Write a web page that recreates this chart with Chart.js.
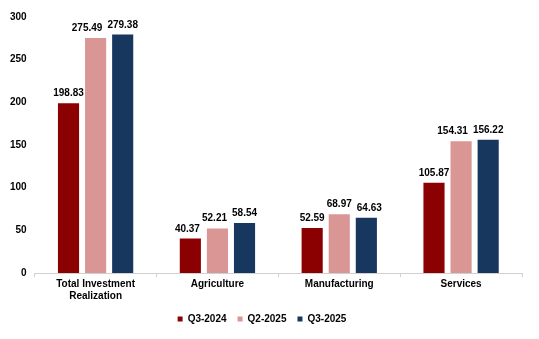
<!DOCTYPE html>
<html>
<head>
<meta charset="utf-8">
<script src="https://cdn.jsdelivr.net/npm/chart.js@4"></script>
<style>
html,body{margin:0;padding:0;background:#fff;}
#wrap{width:539px;height:339px;position:relative;}
</style>
</head>
<body>
<div id="wrap"><canvas id="c" width="539" height="339"></canvas></div>
<script>
const categories = [["Total Investment","Realization"], "Agriculture", "Manufacturing", "Services"];
const seriesNames = ["Q3-2024", "Q2-2025", "Q3-2025"];
const q3_2024 = [198.83, 40.37, 52.59, 105.87];
const q2_2025 = [275.49, 52.21, 68.97, 154.31];
const q3_2025 = [279.38, 58.54, 64.63, 156.22];
const yTicks = [0, 50, 100, 150, 200, 250, 300];
const colors = ["#8B0000", "#DA9694", "#17375E"];
const FONT = '"Liberation Sans", Arial, sans-serif';

const labelPlugin = {
  id: 'barLabels',
  afterDatasetsDraw(chart) {
    const ctx = chart.ctx;
    ctx.save();
    ctx.font = 'bold 10px ' + FONT;
    ctx.fillStyle = '#000';
    ctx.textAlign = 'center';
    ctx.textBaseline = 'alphabetic';
    const nCat = chart.data.labels.length;
    const nDs = chart.data.datasets.length;
    for (let j = 0; j < nCat; j++) {
      const items = [];
      for (let i = 0; i < nDs; i++) {
        const bar = chart.getDatasetMeta(i).data[j];
        const txt = chart.data.datasets[i].data[j].toFixed(2);
        items.push({txt, x: bar.x, y: bar.y - 7, w: ctx.measureText(txt).width});
      }
      // simple collision avoidance: push overlapping neighbours apart horizontally
      for (let i = 0; i < items.length - 1; i++) {
        const a = items[i], b = items[i + 1];
        if (Math.abs(a.y - b.y) < 12) {
          const overlap = (a.x + a.w / 2 + 5) - (b.x - b.w / 2);
          if (overlap > 0) {
            if (a.y > b.y) { a.x -= overlap; } else { b.x += overlap; }
          }
        }
      }
      items.forEach(it => ctx.fillText(it.txt, it.x, it.y));
    }
    ctx.restore();
  }
};

new Chart(document.getElementById('c'), {
  type: 'bar',
  data: {
    labels: categories,
    datasets: [
      {label: seriesNames[0], data: q3_2024, backgroundColor: colors[0]},
      {label: seriesNames[1], data: q2_2025, backgroundColor: colors[1]},
      {label: seriesNames[2], data: q3_2025, backgroundColor: colors[2]}
    ].map(d => Object.assign(d, {borderWidth: 0, categoryPercentage: 0.667, barPercentage: 0.78}))
  },
  options: {
    responsive: false,
    animation: false,
    layout: {padding: {left: 2, right: 17, top: 17, bottom: 5}},
    plugins: {
      legend: {
        position: 'bottom',
        labels: {
          usePointStyle: true,
          pointStyle: 'rect',
          boxWidth: 5,
          boxHeight: 5,
          padding: 11,
          color: '#000',
          font: {family: FONT, size: 10, weight: 'bold'}
        }
      },
      tooltip: {enabled: false}
    },
    scales: {
      x: {
        grid: {display: true, offset: true, drawOnChartArea: false, drawTicks: true, tickLength: 4, color: '#d0d0d0'},
        border: {display: true, color: '#d0d0d0'},
        ticks: {color: '#000', padding: 1, maxRotation: 0, font: {family: FONT, size: 10, weight: 'bold'}}
      },
      y: {
        min: 0, max: 300,
        afterBuildTicks: (axis) => { axis.ticks = yTicks.map(v => ({value: v})); },
        grid: {display: false, drawTicks: false},
        border: {display: false},
        ticks: {color: '#000', padding: 8, font: {family: FONT, size: 10, weight: 'bold'}}
      }
    }
  },
  plugins: [labelPlugin]
});
</script>
</body>
</html>
